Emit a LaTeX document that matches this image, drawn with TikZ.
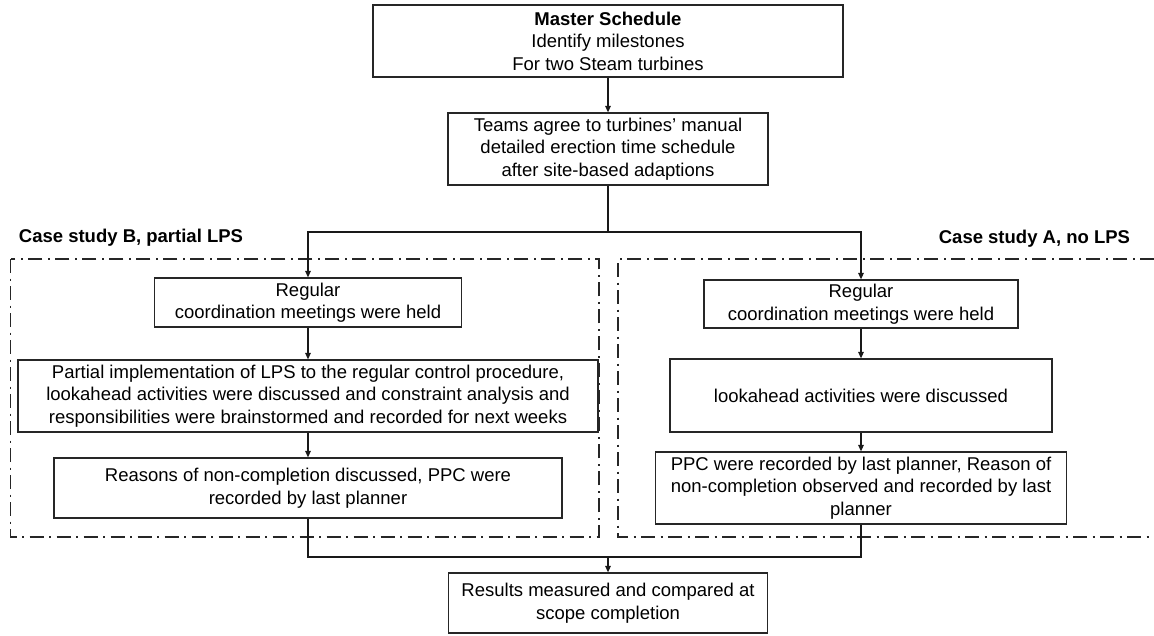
\documentclass[tikz,border=0pt]{standalone}
\usepackage{fontspec}
\setmainfont{Liberation Sans}
\usetikzlibrary{arrows.meta, positioning, calc}
\tikzset{
  every picture/.style={line width=1.2pt},
  box/.style={draw=black!85, fill=white, align=center, inner sep=0pt,
    font=\fontsize{18.5}{22.5}\selectfont},
  arrow/.style={-{Triangle[length=6.5pt, width=5.5pt]}, draw=black!90, line width=1.2pt},
  link/.style={draw=black!90, line width=1.2pt},
  casebox/.style={draw=black!85, line width=1.3pt, dash pattern=on 14pt off 5.5pt on 2pt off 5.5pt},
  title/.style={font=\fontsize{18.5}{22.5}\selectfont\bfseries},
}
\begin{document}
\begin{tikzpicture}[x=1pt, y=-1pt]
  \useasboundingbox (0,0) rectangle (1154,635);
  % the two case study frames
  \draw[casebox] (10.7,259) rectangle (599,537);
  \draw[casebox] (1154,259) -- (618,259) -- (618,537) -- (1154,537);
  \node[title, anchor=west] (caseB) at (15,238) {Case study B, partial LPS};
  \node[title, anchor=east] (caseA) at (1134,239) {Case study A, no LPS};
  % common planning
  \node[box, minimum width=470, minimum height=72] (master) at (608,41)
    {\textbf{Master Schedule}\\Identify milestones\\For two Steam turbines};
  \node[box, minimum width=320, minimum height=72] (teams) at (608,149)
    {Teams agree to turbines' manual\\detailed erection time schedule\\after site-based adaptions};
  % case B
  \node[box, minimum width=307, minimum height=49] (regB) at (308,302.5)
    {Regular\\coordination meetings were held};
  \node[box, minimum width=580, minimum height=72] (lpsB) at (308,396)
    {Partial implementation of LPS to the regular control procedure,\\
     lookahead activities were discussed and constraint analysis and\\
     responsibilities were brainstormed and recorded for next weeks};
  \node[box, minimum width=508, minimum height=60] (ppcB) at (308,488)
    {Reasons of non-completion discussed, PPC were\\recorded by last planner};
  % case A
  \node[box, minimum width=314, minimum height=48] (regA) at (861,304)
    {Regular\\coordination meetings were held};
  \node[box, minimum width=382, minimum height=73] (lookA) at (861,395.5)
    {lookahead activities were discussed};
  \node[box, minimum width=411, minimum height=72] (ppcA) at (861,488)
    {PPC were recorded by last planner, Reason of\\
     non-completion observed and recorded by last\\planner};
  % results
  \node[box, minimum width=319, minimum height=60] (results) at (608,603)
    {Results measured and compared at\\scope completion};
  % connectors
  \coordinate (split) at (608,232);
  \coordinate (merge) at (608,557);
  \draw[arrow] (master) -- (teams);
  \draw[link] (teams) -- (split);
  \draw[arrow] (split) -| (regB.north);
  \draw[arrow] (split) -| (regA.north);
  \draw[arrow] (regB) -- (lpsB);
  \draw[arrow] (lpsB) -- (ppcB);
  \draw[arrow] (regA) -- (lookA);
  \draw[arrow] (lookA) -- (ppcA);
  \draw[link] (ppcB.south) |- (merge);
  \draw[link] (ppcA.south) |- (merge);
  \draw[arrow] (merge) -- (results);
\end{tikzpicture}
\end{document}
